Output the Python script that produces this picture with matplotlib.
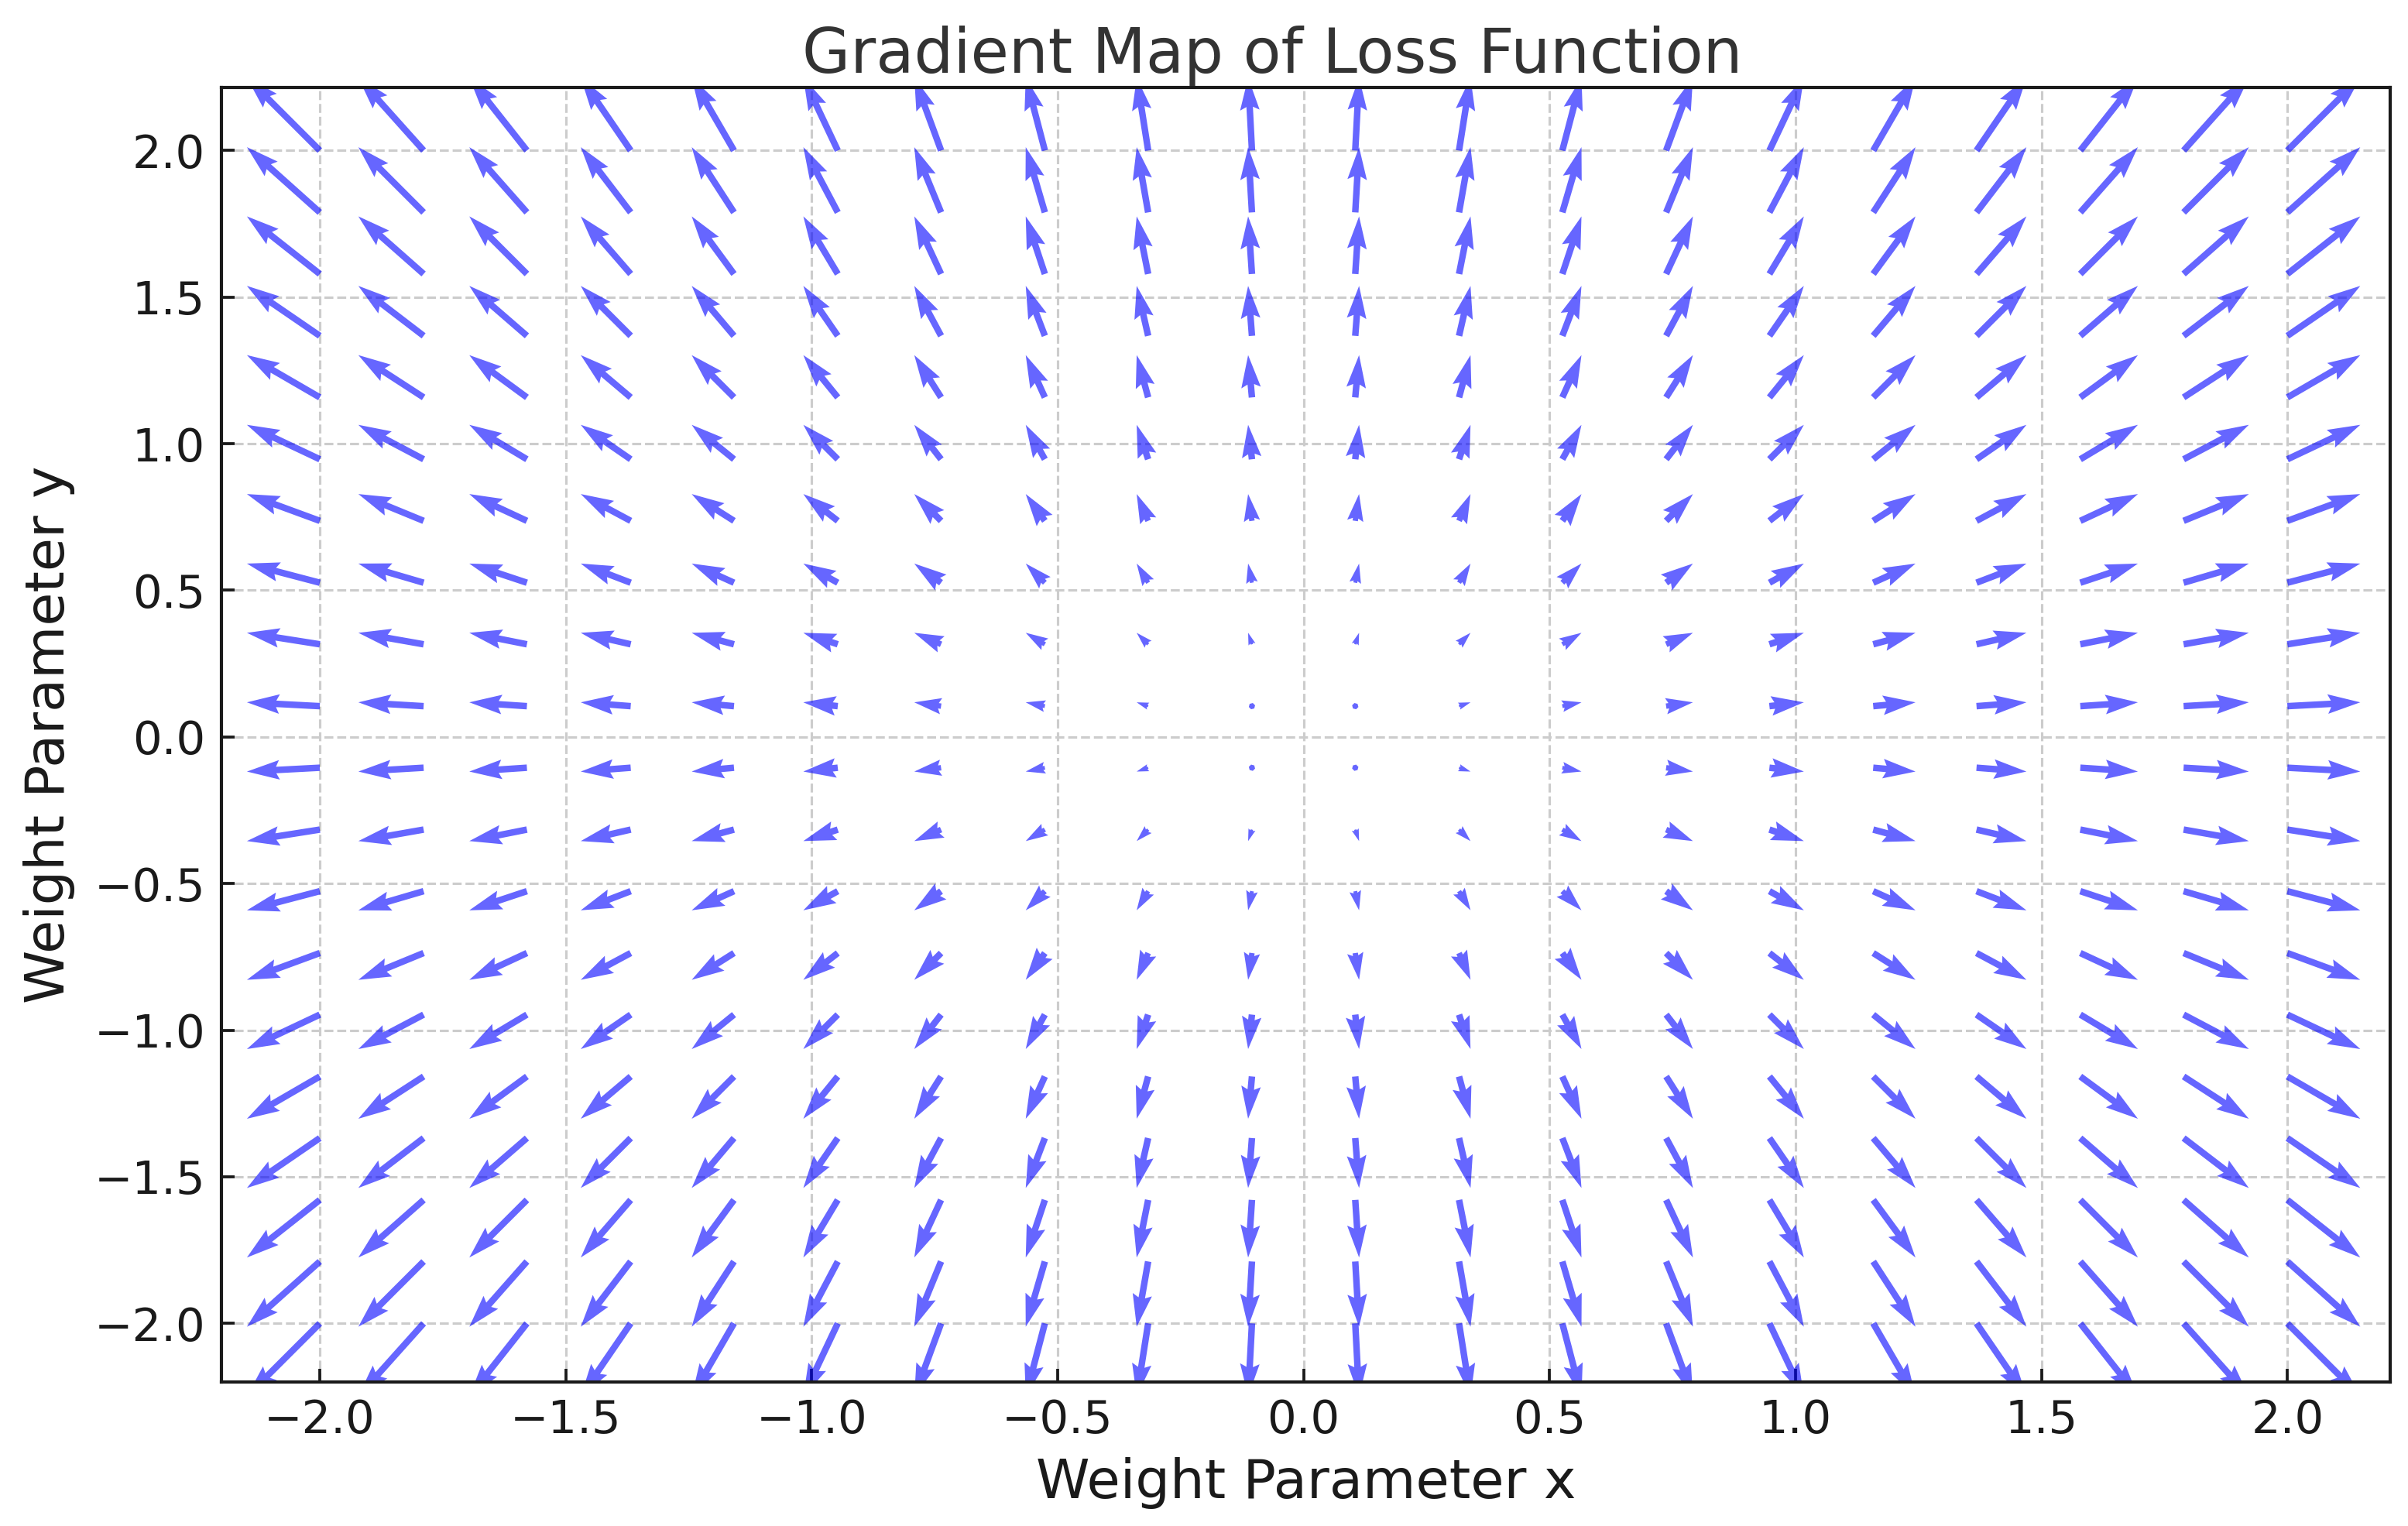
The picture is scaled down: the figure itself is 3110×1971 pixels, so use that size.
import matplotlib
matplotlib.use("Agg")
import matplotlib.pyplot as plt
import numpy as np

grid_x = [-2.0, -1.789, -1.579, -1.368, -1.158, -0.947, -0.737, -0.526, -0.316, -0.105,
          0.105, 0.316, 0.526, 0.737, 0.947, 1.158, 1.368, 1.579, 1.789, 2.0]
grid_y = [-2.0, -1.789, -1.579, -1.368, -1.158, -0.947, -0.737, -0.526, -0.316, -0.105,
          0.105, 0.316, 0.526, 0.737, 0.947, 1.158, 1.368, 1.579, 1.789, 2.0]
grad_x_by_column = [-4.0, -3.58, -3.16, -2.74, -2.32, -1.89, -1.47, -1.05, -0.63, -0.21,
                    0.21, 0.63, 1.05, 1.47, 1.89, 2.32, 2.74, 3.16, 3.58, 4.0]
grad_y_by_row = [-4.0, -3.58, -3.16, -2.74, -2.32, -1.89, -1.47, -1.05, -0.63, -0.21,
                 0.21, 0.63, 1.05, 1.47, 1.89, 2.32, 2.74, 3.16, 3.58, 4.0]
ticks = [-2.0, -1.5, -1.0, -0.5, 0.0, 0.5, 1.0, 1.5, 2.0]

W, H = 3110, 1971
fig = plt.figure(figsize=(W / 300, H / 300), dpi=300)
ax = fig.add_axes([286 / W, 1 - 1785 / H, (3087 - 286) / W, (1785 - 113) / H])

X, Y = np.meshgrid(grid_x, grid_y)
U, V = np.meshgrid(grad_x_by_column, grad_y_by_row)
ax.grid(True, linestyle="--", color="#cccccc", linewidth=0.75, zorder=0)
ax.set_axisbelow(True)
ax.quiver(X, Y, U, V, color="blue", alpha=0.6, scale=119, zorder=2)

ax.set_xlim(-2.2, 2.209)
ax.set_ylim(-2.2, 2.215)
ax.set_xticks(ticks)
ax.set_yticks(ticks)
ax.tick_params(direction="in", length=4, width=0.9, labelsize=14.2, colors="#1a1a1a", pad=5)
for s in ax.spines.values():
    s.set_linewidth(1.0)
    s.set_color("#1a1a1a")

ax.set_title("Gradient Map of Loss Function", fontsize=19.25, color="#333333", pad=4.5, x=0.4845)
ax.set_xlabel("Weight Parameter x", fontsize=16.9, color="#1a1a1a", labelpad=4.6)
ax.set_ylabel("Weight Parameter y", fontsize=16.8, color="#1a1a1a", labelpad=6)

fig.savefig("out.png", dpi=300, facecolor="white")
